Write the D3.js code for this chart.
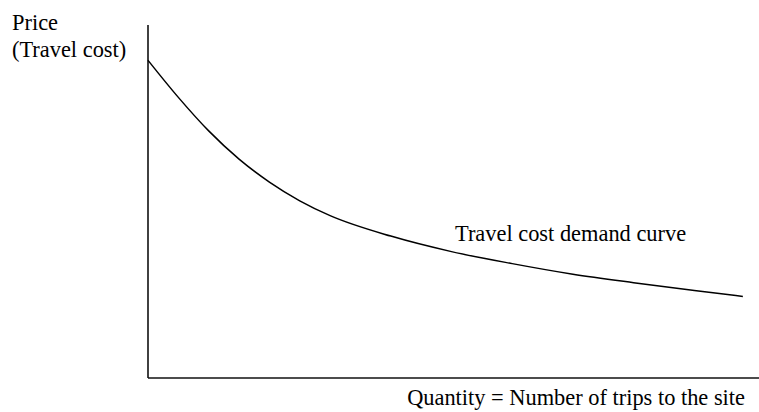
<!DOCTYPE html>
<html>
<head>
<meta charset="utf-8">
<script src="https://d3js.org/d3.v7.min.js"></script>
<style>
  body { margin: 0; background: #fff; }
</style>
</head>
<body>
<div id="chart"></div>
<script>
  // demand curve (quantity, price), both in 0-100 units
  const quantity = [0, 5, 10, 15, 20, 25, 30, 40, 50, 60, 70, 80, 90, 98];
  const price    = [90, 79.5, 70, 62, 55.5, 50.2, 46, 40.2, 35.8, 32.4, 29.4, 27, 24.8, 23.1];

  const yTitle = ["Price", "(Travel cost)"];
  const xTitle = "Quantity = Number of trips to the site";
  const curveLabel = "Travel cost demand curve";

  const W = 759, H = 412;
  const margin = {top: 25, right: 4, bottom: 34, left: 148};

  const svg = d3.select("#chart")
    .append("svg")
      .attr("width", W)
      .attr("height", H)
      .attr("font-family", "Liberation Serif, serif");

  const x = d3.scaleLinear()
    .domain([0, 100])
    .range([margin.left, W - margin.right]);
  const y = d3.scaleLinear()
    .domain([0, 100])
    .range([H - margin.bottom, margin.top]);

  // axes: plain lines, no ticks
  svg.append("line")
    .attr("x1", x(0)).attr("x2", x(0))
    .attr("y1", y(0)).attr("y2", y(100))
    .attr("stroke", "#111").attr("stroke-width", 1.6);
  svg.append("line")
    .attr("x1", x(0)).attr("x2", W)
    .attr("y1", y(0)).attr("y2", y(0))
    .attr("stroke", "#111").attr("stroke-width", 1.6);

  const pts = quantity.map((q, i) => [q, price[i]]);
  const line = d3.line()
    .x(d => x(d[0]))
    .y(d => y(d[1]))
    .curve(d3.curveMonotoneX);

  svg.append("path")
    .datum(pts)
    .attr("d", line)
    .attr("fill", "none")
    .attr("stroke", "#000")
    .attr("stroke-width", 1.5);

  function label(str, px, py, anchor) {
    svg.append("text")
      .attr("x", px).attr("y", py)
      .attr("font-size", 22.4)
      .attr("fill", "#000")
      .attr("text-anchor", anchor || "start")
      .text(str);
  }

  label(yTitle[0], 12, 30);
  label(yTitle[1], 12, 57);
  label(curveLabel, 455, 241);
  label(xTitle, 745, 405, "end");
</script>
</body>
</html>
